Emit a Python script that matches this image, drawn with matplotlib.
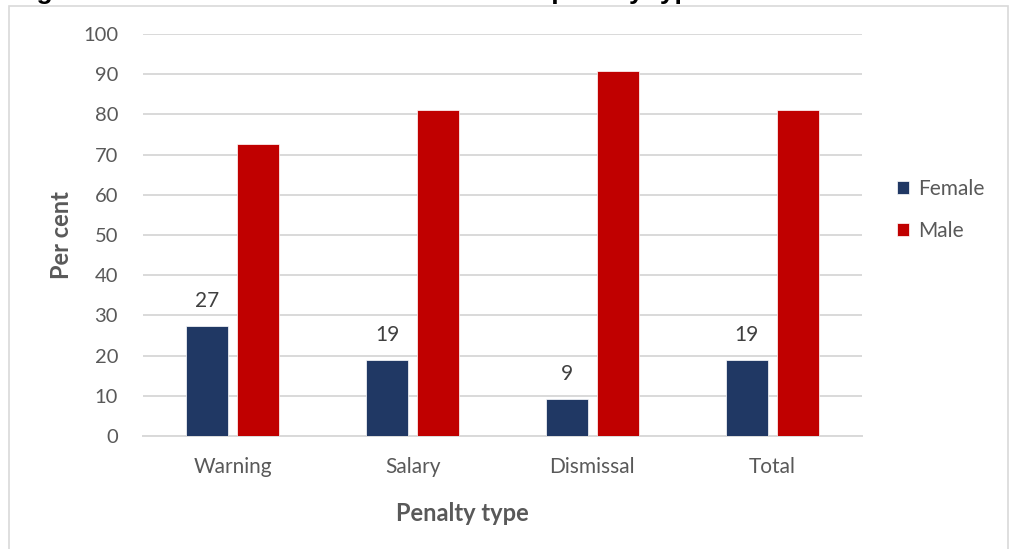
import matplotlib.pyplot as plt
import numpy as np
from matplotlib.patches import Rectangle

categories = ["Warning", "Salary", "Dismissal", "Total"]
female = [27.4, 19.0, 9.2, 18.8]
male = [72.6, 81.0, 90.8, 81.2]
y_ticks = list(range(0, 101, 10))

FEMALE_COLOR = "#203864"
MALE_COLOR = "#c00000"
TEXT_COLOR = "#595959"
GRID_COLOR = "#d9d9d9"


def main():
  plt.rcParams["font.family"] = ["Lato", "DejaVu Sans"]

  fig = plt.figure(figsize=(10.11, 5.49), dpi=100)

  # chart border and the title that runs off the top edge
  fig.patches.append(Rectangle((9 / 1011, -0.05), 999 / 1011, 1.05 - 6 / 549,
                               transform=fig.transFigure, fill=False,
                               edgecolor=GRID_COLOR, linewidth=1.2))
  fig.text(13 / 1011, 1 + 1.5 / 549,
           "Figure 8: Share of women and men across penalty type",
           fontsize=19, fontweight="bold", family="Liberation Sans",
           color="black", va="baseline", ha="left")

  ax = fig.add_axes([143 / 1011, 1 - 436 / 549, 719 / 1011, 402 / 549])

  x = np.arange(len(categories))
  width = 0.233
  offset = 0.142
  bars_f = ax.bar(x - offset, female, width, color=FEMALE_COLOR,
                  edgecolor="white", linewidth=0.5, label="Female", zorder=3)
  ax.bar(x + offset, male, width, color=MALE_COLOR,
         edgecolor="white", linewidth=0.5, label="Male", zorder=3)

  for bar, value in zip(bars_f, female):
    ax.annotate(f"{value:.0f}",
                (bar.get_x() + bar.get_width() / 2, bar.get_height()),
                xytext=(0, 25), textcoords="offset pixels",
                ha="center", va="center", fontsize=15, color="#404040")

  ax.set_xlim(-0.5, len(categories) - 0.5)
  ax.set_ylim(0, 100)
  ax.set_yticks(y_ticks)
  ax.set_xticks(x)
  ax.set_xticklabels(categories)
  ax.yaxis.grid(True, color=GRID_COLOR, linewidth=1.4, zorder=0)
  ax.set_axisbelow(True)
  for side in ["top", "right", "left"]:
    ax.spines[side].set_visible(False)
  ax.spines["bottom"].set_color(GRID_COLOR)
  ax.spines["bottom"].set_linewidth(1.4)
  ax.tick_params(axis="y", length=0, pad=18, labelsize=14.5, labelcolor=TEXT_COLOR)
  ax.tick_params(axis="x", length=0, pad=15, labelsize=15, labelcolor=TEXT_COLOR)

  ax.set_ylabel("Per cent", fontsize=17, fontweight="bold", color=TEXT_COLOR,
                labelpad=7)
  ax.set_xlabel("Penalty type", fontsize=17, fontweight="bold", color=TEXT_COLOR,
                labelpad=18, x=(462 - 143) / 719)

  ax.legend(loc="center left", bbox_to_anchor=(1.0225, 0.5626), frameon=False,
            fontsize=15, labelcolor=TEXT_COLOR, handlelength=0.6,
            handleheight=0.6, handletextpad=0.4, labelspacing=1.05)

  fig.savefig("out.png", dpi=100)


if __name__ == "__main__":
  main()
